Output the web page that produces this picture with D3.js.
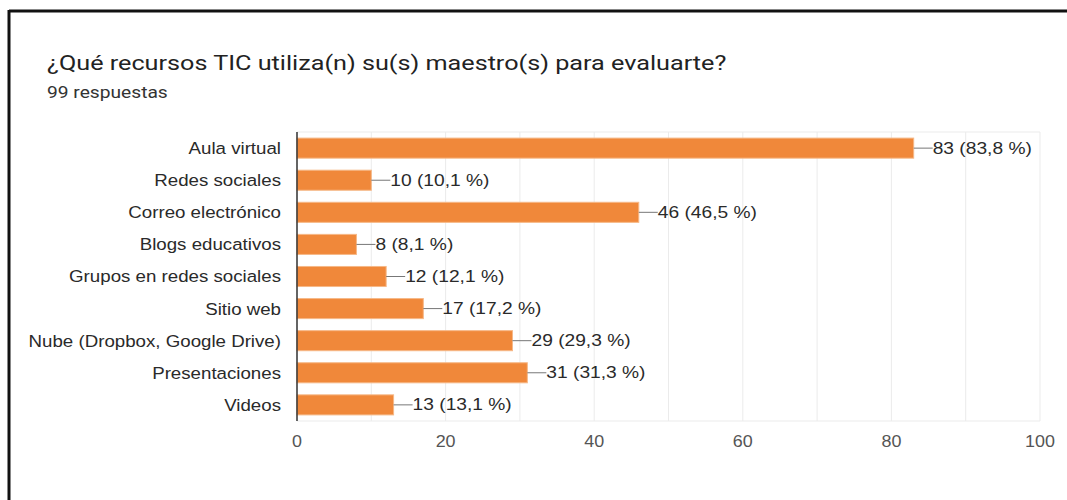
<!DOCTYPE html>
<html>
<head>
<meta charset="utf-8">
<script src="https://cdn.jsdelivr.net/npm/d3@7"></script>
<style>
    html, body { margin: 0; padding: 0; background: #fff; }
    svg { display: block; font-family: Arial, "Liberation Sans", sans-serif; }
</style>
</head>
<body>
<div id="chart"></div>
<script>
const categories = ['Aula virtual', 'Redes sociales', 'Correo electrónico', 'Blogs educativos',
    'Grupos en redes sociales', 'Sitio web', 'Nube (Dropbox, Google Drive)', 'Presentaciones', 'Videos'];
const counts = [83, 10, 46, 8, 12, 17, 29, 31, 13];
const percents = ['83,8', '10,1', '46,5', '8,1', '12,1', '17,2', '29,3', '31,3', '13,1'];
const xTicks = [0, 20, 40, 60, 80, 100];

const W = 1067, H = 500;
const margin = { top: 132, right: 27, bottom: 79, left: 297 };
const width = W - margin.left - margin.right;
const height = H - margin.top - margin.bottom;

const svg = d3.select('#chart').append('svg').attr('width', W).attr('height', H);

// la captura original está algo estirada en horizontal
function stretchedText(parent, x, y, sx, txt) {
    return parent.append('text')
        .attr('transform', `translate(${x},${y}) scale(${sx},1)`)
        .text(txt);
}

// marco negro (solo arriba e izquierda visibles)
svg.append('line').attr('x1', 9).attr('x2', W).attr('y1', 11).attr('y2', 11).attr('stroke', '#111').attr('stroke-width', 3);
svg.append('line').attr('x1', 9).attr('x2', 9).attr('y1', 10).attr('y2', H).attr('stroke', '#111').attr('stroke-width', 3);

stretchedText(svg, 47, 70, 1.2, '¿Qué recursos TIC utiliza(n) su(s) maestro(s) para evaluarte?')
    .attr('fill', '#222').style('font-family', 'Roboto, sans-serif').style('font-size', '21px');
stretchedText(svg, 47, 98, 1.2, '99 respuestas')
    .attr('fill', '#333').style('font-family', 'Roboto, sans-serif').style('font-size', '16px');

const g = svg.append('g').attr('transform', `translate(${margin.left},${margin.top})`);

const x = d3.scaleLinear().domain([0, 100]).range([0, width]);
const y = d3.scaleBand().domain(categories).range([0, height]).paddingInner(0.375).paddingOuter(0.19);

// cuadrícula
g.selectAll('.grid').data(d3.range(0, 101, 10)).enter().append('line')
    .attr('x1', d => x(d)).attr('x2', d => x(d)).attr('y1', 0).attr('y2', height)
    .attr('stroke', '#ebebeb').attr('stroke-width', 1);
g.append('line').attr('x1', 0).attr('x2', width).attr('y1', 0).attr('y2', 0).attr('stroke', '#ebebeb');
g.append('line').attr('x1', 0).attr('x2', width).attr('y1', height).attr('y2', height).attr('stroke', '#ebebeb');

// barras
g.selectAll('.bar').data(categories).enter().append('rect')
    .attr('x', 0).attr('y', d => y(d))
    .attr('width', (d, i) => x(counts[i])).attr('height', y.bandwidth())
    .attr('fill', '#f0883a').attr('stroke', '#f6b887').attr('stroke-width', 1);

// eje vertical
g.append('line').attr('x1', 0).attr('x2', 0).attr('y1', 0).attr('y2', height).attr('stroke', '#333').attr('stroke-width', 1.5);

// etiquetas de categoría
categories.forEach(c => {
    stretchedText(g, -16, y(c) + y.bandwidth() / 2, 1.1, c)
        .attr('dy', '0.35em').attr('text-anchor', 'end').attr('fill', '#2a2a2a').style('font-size', '17px');
});

// etiquetas de valores con conector
categories.forEach((c, i) => {
    const xe = x(counts[i]);
    const yc = y(c) + y.bandwidth() / 2;
    g.append('line').attr('x1', xe).attr('x2', xe + 19).attr('y1', yc).attr('y2', yc).attr('stroke', '#777').attr('stroke-width', 1);
    stretchedText(g, xe + 19, yc, 1.2, `${counts[i]} (${percents[i]} %)`)
        .attr('dy', '0.35em').attr('fill', '#2a2a2a').style('font-size', '16px');
});

// eje x
xTicks.forEach(t => {
    stretchedText(g, x(t), height + 26, 1.12, t)
        .attr('text-anchor', 'middle').attr('fill', '#555').style('font-size', '16px');
});
</script>
</body>
</html>
